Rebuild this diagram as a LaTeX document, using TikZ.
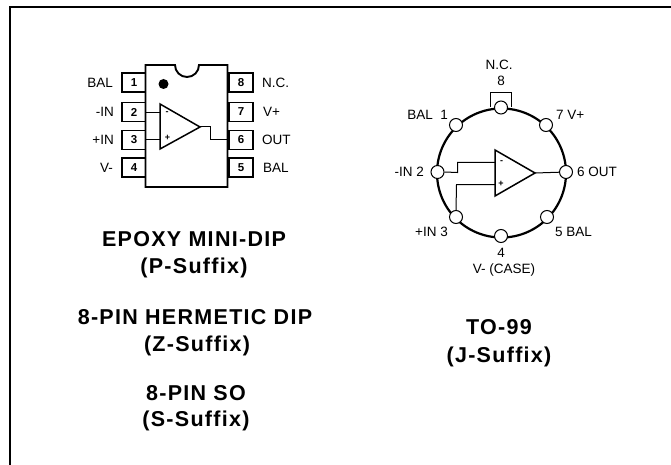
\documentclass[tikz,border=0pt]{standalone}
\usepackage{fontspec}
\setmainfont{Liberation Sans}
\newfontfamily\titlefont[LetterSpace=6]{Liberation Sans}
\begin{document}
\begin{tikzpicture}[x=1pt,y=-1pt,
  pinbox/.style={draw=black,line width=1.1pt,minimum width=24pt,minimum height=19pt,inner sep=0pt,font=\fontsize{11.5}{12}\bfseries\selectfont},
  lbl/.style={inner sep=0pt,font=\fontsize{13.5}{14}\selectfont},
  tlabel/.style={inner sep=0pt,font=\titlefont\fontsize{21.5}{24}\bfseries\selectfont},
  hole/.style={circle,draw=black,fill=white,line width=1pt,minimum size=13pt,inner sep=0pt},
  sign/.style={inner sep=0pt,font=\fontsize{9}{9}\bfseries\selectfont},
  wire/.style={line width=1pt},
  heavy/.style={line width=1.9pt}]
\useasboundingbox (0,0) rectangle (671,465);
\fill[white] (0,0) rectangle (671,465);
% frame
\coordinate (fa) at (10,465); \coordinate (fb) at (10,7); \coordinate (fc) at (671,7);
\draw[line width=1.3pt] (fa) -- (fb) -- (fc);

% --- mini-DIP ---
\node[pinbox] (p1) at (134,82.5) {1};
\node[pinbox] (p2) at (134,112) {2};
\node[pinbox] (p3) at (134,140) {3};
\node[pinbox] (p4) at (134,167.5) {4};
\node[pinbox] (p8) at (241,82.5) {8};
\node[pinbox] (p7) at (241,112) {7};
\node[pinbox] (p6) at (241,140) {6};
\node[pinbox] (p5) at (241,167.5) {5};
\draw[heavy,fill=white] (145.5,65) -- (175,65) arc[start angle=180,end angle=0,radius=12] -- (227.5,65) -- (227.5,187) -- (145.5,187) -- cycle;
\fill (163.5,84) circle (5);
\coordinate (d2) at (145.5,112.5); \coordinate (d3) at (145.5,139.5); \coordinate (d6) at (227.5,139.5);
\draw[line width=1.5pt] (160,104) coordinate (dt1) -- (200,127) coordinate (da) -- (160,149) coordinate (dt2) -- cycle;
\draw[wire] (d2) -- (160,112.5);
\draw[wire] (d3) -- (160,139.5);
\draw[wire] (da) -- (210.5,127) -- (210.5,139.5) -- (d6);
\node[sign] at (167,113.5) {-};
\node[sign] at (167.5,137.5) {+};
\node[lbl,anchor=east] (l1) at (113,83) {BAL};
\node[lbl,anchor=east] (l2) at (114,111.5) {-IN};
\node[lbl,anchor=east] (l3) at (114,140) {+IN};
\node[lbl,anchor=east] (l4) at (113,168) {V-};
\node[lbl,anchor=west] (l8) at (262,83) {N.C.};
\node[lbl,anchor=west] (l7) at (263,111.5) {V+};
\node[lbl,anchor=west] (l6) at (262,140) {OUT};
\node[lbl,anchor=west] (l5) at (263,168) {BAL};

% --- TO-99 ---
\coordinate (c) at (501.5,173);
\draw[line width=2.2pt] (c) circle (64.5);
\coordinate (tb1) at (490,107); \coordinate (tb2) at (511,107);
\draw[line width=1pt] (tb1) -- (490,92.5) -- (511,92.5) -- (tb2);
\node[hole] (t8) at (501,107.5) {};
\node[hole] (t1) at (456,125) {};
\node[hole] (t7) at (546,125) {};
\node[hole] (t2) at (437.5,172) {};
\node[hole] (t6) at (566,172) {};
\node[hole] (t3) at (456,217) {};
\node[hole] (t5) at (547,217) {};
\node[hole] (t4) at (501,236) {};
\draw[line width=1.5pt] (495,150) coordinate (a1) -- (535,173) coordinate (aa) -- (495,196) coordinate (a2) -- cycle;
\draw[wire] (t2.east) -- (457.5,172.5) -- (457.5,162.5) -- (495,162.5);
\draw[wire] (t3.north) -- (456.5,184.5) -- (495,184.5);
\draw[wire] (aa) -- (t6);
\node[sign] at (501.5,162.5) {-};
\node[sign] at (501,184) {+};
\node[lbl] at (501,81) {8};
\node[lbl] at (499,64.5) {N.C.};
\node[lbl,anchor=east] at (448,114.5) {BAL\ \ 1};
\node[lbl,anchor=west] at (556,114.5) {7 V+};
\node[lbl,anchor=east] at (424,172) {-IN 2};
\node[lbl,anchor=west] at (577,172) {6 OUT};
\node[lbl,anchor=east] at (448,232) {+IN 3};
\node[lbl,anchor=west] at (555,232) {5 BAL};
\node[lbl] at (501,253) {4};
\node[lbl] at (504,270) {V- (CASE)};

% --- titles ---
\node[tlabel] at (194,239) {EPOXY MINI-DIP};
\node[tlabel] at (194,268) {(P-Suffix)};
\node[tlabel] at (195,317) {8-PIN HERMETIC DIP};
\node[tlabel] at (197,346) {(Z-Suffix)};
\node[tlabel] at (196,393) {8-PIN SO};
\node[tlabel] at (196,421) {(S-Suffix)};
\node[tlabel] at (499,327) {TO-99};
\node[tlabel] at (499,357) {(J-Suffix)};
\end{tikzpicture}
\end{document}
